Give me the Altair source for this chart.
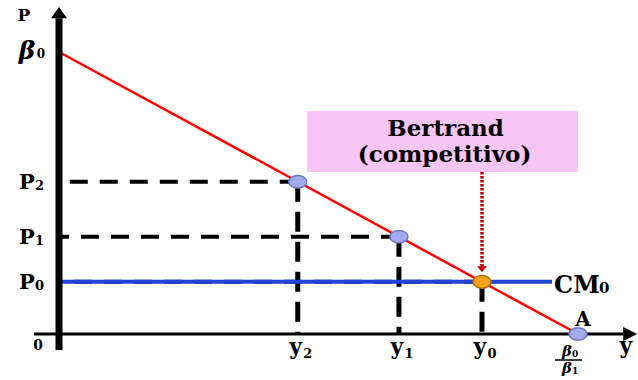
import altair as alt
import pandas as pd

# Linear demand p = beta0 - beta1 * y, with a flat marginal cost CM0
BETA0 = 10.0
BETA1 = 1.0
A_QTY = BETA0 / BETA1          # horizontal intercept beta0/beta1

subscripts = ["2", "1", "0"]
quantities = [4.6, 6.55, 8.15]   # y2, y1, y0
prices = [5.4, 3.45, 1.85]       # P2, P1, P0
CM0 = 1.85
CM0_END = 9.5

# drawing frame (data units)
X_DOMAIN = [-1.137, 11.156]
Y_DOMAIN = [-1.631, 11.844]
AXIS_X = [-0.48, 10.87]
AXIS_Y = [-0.57, 11.2]
CALLOUT = {"q0": 4.78, "q1": 10.0, "p0": 5.745, "p1": 7.91}

FONT = "DejaVu Serif"
RED = "#ff0000"
BLUE = "#1f45d8"
PT_FILL = "#a4aaee"
PT_STROKE = "#6d78c4"
OR_FILL = "#f7a21b"
OR_STROKE = "#b46f0c"
PINK = "#f7c6f7"

ELLIPSE = "M-1,0A1,0.7,0,1,0,1,0A1,0.7,0,1,0,-1,0Z"
UP_ARROW = "M0,-1.4L1,0L-1,0Z"
RIGHT_ARROW = "M2,0L0,-1L0,1Z"
DOWN_HEAD = "M0,0L-1,-1.2L1,-1.2Z"

xs = alt.Scale(domain=X_DOMAIN, nice=False, zero=False)
ys = alt.Scale(domain=Y_DOMAIN, nice=False, zero=False)


def qx(field="q"):
    return alt.X(f"{field}:Q", scale=xs, axis=None)


def py(field="p"):
    return alt.Y(f"{field}:Q", scale=ys, axis=None)


pts = pd.DataFrame({"q": quantities, "p": prices, "s": subscripts})
demand = pd.DataFrame({"q": [0.0, A_QTY], "p": [BETA0, 0.0]})
one = lambda **kw: pd.DataFrame({k: [v] for k, v in kw.items()})

layers = []

# pink callout box
layers.append(
    alt.Chart(one(**CALLOUT)).mark_rect(fill=PINK).encode(
        x=qx("q0"), x2="q1:Q", y=py("p0"), y2="p1:Q"
    )
)

# dashed guides from each point to the axes
layers.append(
    alt.Chart(pts).mark_rule(color="black", strokeWidth=4, strokeDash=[18, 12]).encode(
        x=qx(), x2=alt.X2(datum=0), y=py()
    )
)
layers.append(
    alt.Chart(pts).mark_rule(color="black", strokeWidth=5, strokeDash=[20, 10]).encode(
        x=qx(), y=py(), y2=alt.Y2(datum=0)
    )
)

# demand curve
layers.append(
    alt.Chart(demand).mark_line(color=RED, strokeWidth=2.5).encode(x=qx(), y=py())
)

# marginal cost line
layers.append(
    alt.Chart(one(q0=0.0, q1=CM0_END, p=CM0)).mark_rule(color=BLUE, strokeWidth=4).encode(
        x=qx("q0"), x2="q1:Q", y=py()
    )
)

# axes
layers.append(
    alt.Chart(one(q=0.0, p0=AXIS_Y[0], p1=AXIS_Y[1])).mark_rule(color="black", strokeWidth=7).encode(
        x=qx(), y=py("p0"), y2="p1:Q"
    )
)
layers.append(
    alt.Chart(one(q0=AXIS_X[0], q1=AXIS_X[1], p=0.0)).mark_rule(color="black", strokeWidth=3).encode(
        x=qx("q0"), x2="q1:Q", y=py()
    )
)
layers.append(
    alt.Chart(one(q=0.0, p=AXIS_Y[1])).mark_point(
        shape=UP_ARROW, filled=True, fill="black", strokeWidth=0, size=256, opacity=1
    ).encode(x=qx(), y=py())
)
layers.append(
    alt.Chart(one(q=AXIS_X[1], p=0.0)).mark_point(
        shape=RIGHT_ARROW, filled=True, fill="black", strokeWidth=0, size=196, opacity=1
    ).encode(x=qx(), y=py())
)

# dotted arrow from the callout to the Bertrand equilibrium
layers.append(
    alt.Chart(one(q=quantities[2], p0=CALLOUT["p0"], p1=prices[2])).mark_rule(
        color="#c00000", strokeWidth=3.5, strokeDash=[2.5, 1.5], y2Offset=-15
    ).encode(x=qx(), y=py("p0"), y2="p1:Q")
)
layers.append(
    alt.Chart(one(q=quantities[2], p=prices[2])).mark_point(
        shape=DOWN_HEAD, filled=True, fill="#c00000", strokeWidth=0, size=100, opacity=1, yOffset=-9.5
    ).encode(x=qx(), y=py())
)

# points on the demand curve
layers.append(
    alt.Chart(pts.iloc[:2]).mark_point(
        shape=ELLIPSE, filled=True, fill=PT_FILL, stroke=PT_STROKE, strokeWidth=1.5, size=324, opacity=1
    ).encode(x=qx(), y=py())
)
layers.append(
    alt.Chart(one(q=A_QTY, p=0.0)).mark_point(
        shape=ELLIPSE, filled=True, fill=PT_FILL, stroke=PT_STROKE, strokeWidth=1.5, size=324, opacity=1
    ).encode(x=qx(), y=py())
)
layers.append(
    alt.Chart(pts.iloc[2:]).mark_point(
        shape=ELLIPSE, filled=True, fill=OR_FILL, stroke=OR_STROKE, strokeWidth=1.5, size=324, opacity=1
    ).encode(x=qx(), y=py())
)


def label(text, q, p, dx=0, dy=0, size=20, italic=False, align="center"):
    return alt.Chart(one(q=q, p=p, t=text)).mark_text(
        font=FONT, fontWeight="bold", fontStyle="italic" if italic else "normal",
        fontSize=size, dx=dx, dy=dy, align=align, baseline="alphabetic", color="black"
    ).encode(x=qx(), y=py(), text="t:N")


# vertical axis labels
layers.append(label("P", 0.0, AXIS_Y[1], dx=-35, dy=3, size=17))
layers.append(label("β", 0.0, BETA0, dx=-32, dy=7, size=25, italic=True))
layers.append(label("0", 0.0, BETA0, dx=-18, dy=6, size=12))
for s, p in zip(subscripts, prices):
    layers.append(label("P", 0.0, p, dx=-32, dy=7.5, size=21))
    layers.append(label(s, 0.0, p, dx=-19.5, dy=8.5, size=13))
layers.append(label("0", 0.0, 0.0, dx=-21, dy=16, size=14))

# horizontal axis labels
for s, q in zip(subscripts, quantities):
    layers.append(label("y", q, 0.0, dx=-2, dy=20, size=22))
    layers.append(label(s, q, 0.0, dx=10, dy=24, size=13))
layers.append(label("y", A_QTY, 0.0, dx=48, dy=19, size=22))
layers.append(label("A", A_QTY, 0.0, dx=5, dy=-8, size=20))

# beta0 / beta1 fraction under the intercept
layers.append(label("β", A_QTY, 0.0, dx=-11, dy=22, size=15, italic=True))
layers.append(label("0", A_QTY, 0.0, dx=-3, dy=23, size=9))
layers.append(
    alt.Chart(one(q=A_QTY, p=0.0)).mark_rule(
        color="black", strokeWidth=1.5, xOffset=-23, x2Offset=4, yOffset=26
    ).encode(x=qx(), x2="q:Q", y=py())
)
layers.append(label("β", A_QTY, 0.0, dx=-11, dy=39, size=15, italic=True))
layers.append(label("1", A_QTY, 0.0, dx=-3, dy=40, size=9))

# marginal cost label
layers.append(label("CM", CM0_END, CM0, dx=2, dy=11, size=24, align="left"))
layers.append(label("0", CM0_END, CM0, dx=47, dy=11, size=15, align="left"))

# callout text
box_mid = (CALLOUT["q0"] + CALLOUT["q1"]) / 2
layers.append(label("Bertrand", box_mid, CALLOUT["p1"], dx=3, dy=25, size=23))
layers.append(label("(competitivo)", box_mid, CALLOUT["p1"], dx=2, dy=51, size=23))

chart = (
    alt.layer(*layers)
    .properties(width=638, height=380, padding=0, autosize=alt.AutoSizeParams(type="none"))
    .configure_view(stroke=None)
)

chart.save("out.html", embed_options={"renderer": "svg", "actions": False})
